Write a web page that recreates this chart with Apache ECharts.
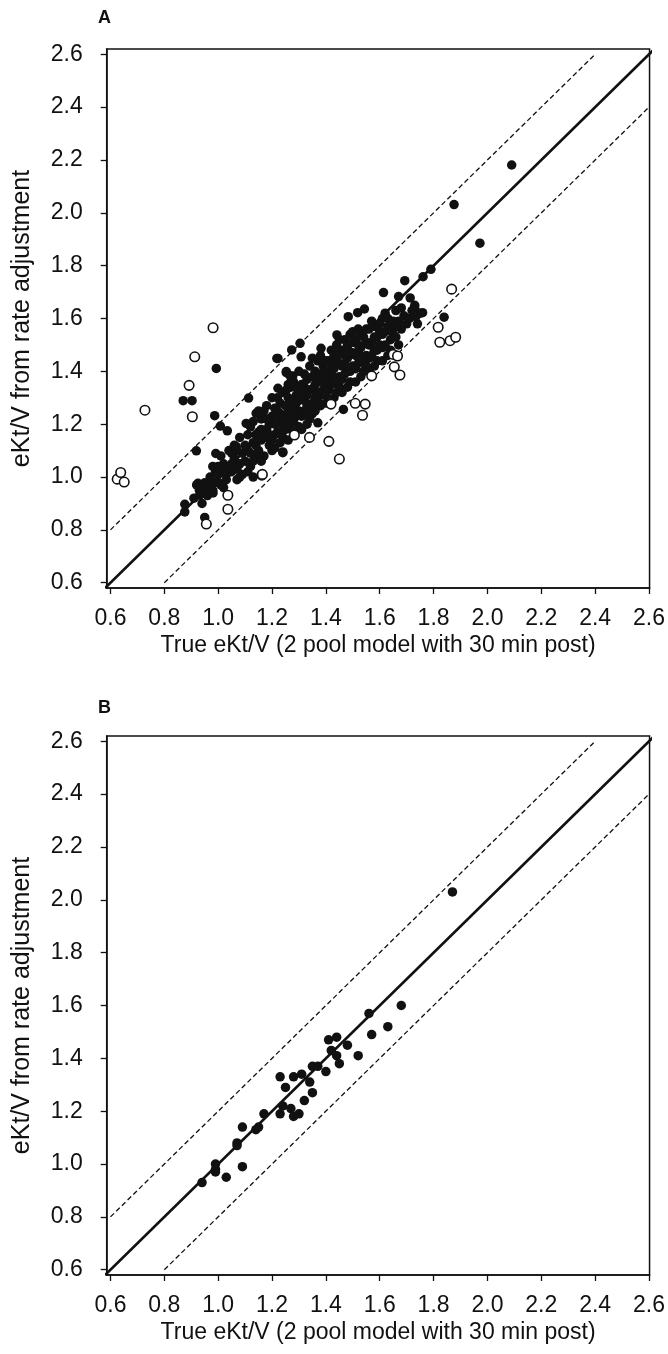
<!DOCTYPE html>
<html>
<head>
<meta charset="utf-8">
<script src="https://cdn.jsdelivr.net/npm/echarts@6/dist/echarts.min.js"></script>
<style>
html,body{margin:0;padding:0;background:#fff;}
#c{width:668px;height:1354px;}
</style>
</head>
<body>
<div id="c"></div>
<script>
// ---- tick labels ----
var tickValues = [0.6,0.8,1.0,1.2,1.4,1.6,1.8,2.0,2.2,2.4,2.6];
var xTitle = 'True eKt/V (2 pool model with 30 min post)';
var yTitle = 'eKt/V from rate adjustment';
var panelLabels = ['A','B'];

// ---- reference lines ----
var identityLine = [[0.58,0.58],[2.62,2.62]];
var upperLine = [[0.6,0.8],[2.4,2.6]];
var lowerLine = [[0.8,0.6],[2.6,2.4]];

// ---- Panel A: filled points (outliers and edges) ----
var aFilledEdge = [
[0.870,1.289],[0.903,1.289],[0.993,1.411],[0.987,1.232],[0.919,1.099],[1.113,1.299],[1.222,1.449],
[1.273,1.481],[1.304,1.506],[1.253,1.395],[1.277,1.382],[1.222,1.336],[1.253,1.329],[1.008,1.193],
[1.034,1.175],[1.104,1.203],[1.141,1.241],[1.067,1.115],[0.991,1.089],[1.240,1.092],[0.950,0.847],
[0.876,0.897],[0.876,0.868],[0.925,0.976],[0.950,0.978],[0.931,0.931],[0.981,0.940],[1.876,2.031],
[2.090,2.181],[1.972,1.885],[1.790,1.786],[1.761,1.758],[1.693,1.743],[1.614,1.698],[1.670,1.683],
[1.713,1.678],[1.839,1.605],[1.759,1.622],[1.730,1.639],[1.734,1.607],[1.483,1.607],[1.518,1.622],
[1.543,1.636],[1.441,1.538],[1.218,1.449],[1.308,1.455],[1.253,1.399],[1.267,1.383],[1.382,1.487],
[1.465,1.256],[1.370,1.205],[1.240,1.095]
];
// ---- Panel A: filled points (dense cluster) ----
var aFilledCluster = [
[0.91,0.92],[0.93,0.95],[0.94,0.90],[0.92,0.97],
[0.96,0.96],[0.97,1.00],[0.98,0.95],[0.99,1.02],[0.96,0.93],[0.98,1.04],[0.99,0.98],
[1.00,1.01],[1.01,0.97],[1.02,1.05],[1.03,0.99],[1.01,1.08],[1.04,1.03],[1.02,0.96],[1.04,1.10],[1.03,1.01],[1.00,1.04],
[1.05,1.02],[1.06,1.07],[1.07,0.99],[1.08,1.05],[1.06,1.12],[1.09,1.09],[1.07,1.03],[1.08,1.15],[1.09,1.01],[1.05,1.09],[1.10,1.06],
[1.11,1.10],[1.12,1.04],[1.13,1.13],[1.11,1.16],[1.14,1.08],[1.12,1.19],[1.13,1.06],[1.14,1.12],[1.15,1.17],[1.11,1.02],[1.13,1.21],[1.15,1.10],
[1.16,1.14],[1.17,1.08],[1.18,1.18],[1.16,1.22],[1.19,1.12],[1.17,1.25],[1.18,1.15],[1.19,1.20],[1.20,1.10],[1.16,1.06],[1.18,1.27],[1.20,1.23],[1.17,1.17],
[1.21,1.16],[1.22,1.21],[1.23,1.13],[1.21,1.26],[1.24,1.19],[1.22,1.30],[1.23,1.24],[1.24,1.15],[1.25,1.22],[1.21,1.11],[1.23,1.28],[1.25,1.18],[1.22,1.17],[1.24,1.32],
[1.26,1.20],[1.27,1.26],[1.28,1.16],[1.26,1.30],[1.29,1.23],[1.27,1.34],[1.28,1.21],[1.29,1.28],[1.30,1.19],[1.26,1.14],[1.28,1.36],[1.30,1.25],[1.27,1.22],[1.29,1.31],[1.30,1.33],
[1.31,1.23],[1.32,1.29],[1.33,1.20],[1.31,1.35],[1.34,1.26],[1.32,1.39],[1.33,1.31],[1.34,1.22],[1.35,1.28],[1.31,1.18],[1.33,1.37],[1.35,1.33],[1.32,1.25],[1.34,1.42],[1.35,1.24],
[1.36,1.30],[1.37,1.36],[1.38,1.27],[1.36,1.40],[1.39,1.33],[1.37,1.44],[1.38,1.31],[1.39,1.38],[1.40,1.28],[1.36,1.25],[1.38,1.46],[1.40,1.35],[1.37,1.29],[1.39,1.42],[1.40,1.40],
[1.41,1.33],[1.42,1.39],[1.43,1.30],[1.41,1.44],[1.44,1.36],[1.42,1.48],[1.43,1.41],[1.44,1.32],[1.45,1.38],[1.41,1.28],[1.43,1.46],[1.45,1.43],[1.42,1.35],[1.44,1.50],[1.45,1.34],
[1.46,1.37],[1.47,1.43],[1.48,1.34],[1.46,1.48],[1.49,1.40],[1.47,1.52],[1.48,1.45],[1.49,1.36],[1.50,1.42],[1.46,1.32],[1.48,1.50],[1.50,1.47],[1.47,1.39],[1.49,1.54],
[1.51,1.41],[1.52,1.47],[1.53,1.38],[1.51,1.52],[1.54,1.44],[1.52,1.56],[1.53,1.49],[1.54,1.40],[1.55,1.46],[1.51,1.36],[1.53,1.54],[1.55,1.51],[1.52,1.43],
[1.56,1.45],[1.57,1.51],[1.58,1.42],[1.56,1.56],[1.59,1.48],[1.57,1.59],[1.58,1.53],[1.59,1.44],[1.60,1.50],[1.56,1.40],[1.58,1.57],[1.60,1.55],
[1.61,1.49],[1.62,1.55],[1.63,1.46],[1.61,1.60],[1.64,1.52],[1.62,1.62],[1.63,1.57],[1.64,1.48],[1.65,1.54],[1.61,1.44],
[1.66,1.53],[1.67,1.59],[1.68,1.56],[1.66,1.63],[1.69,1.61],[1.67,1.50],[1.70,1.58],[1.68,1.64],
[1.71,1.60],[1.72,1.63],[1.74,1.58],[1.73,1.65],[1.75,1.62]
];
// ---- Panel A: filled points (densest core, overlapping) ----
var aFilledCore = [
[0.97,0.97],[1.00,0.98],[1.02,1.02],[1.05,1.05],[1.07,1.10],[1.10,1.12],[1.12,1.09],[1.14,1.16],
[1.16,1.18],[1.18,1.22],[1.19,1.16],[1.21,1.20],[1.22,1.25],[1.24,1.23],[1.25,1.27],[1.26,1.24],
[1.27,1.29],[1.28,1.25],[1.29,1.34],[1.30,1.29],[1.31,1.31],[1.32,1.34],[1.33,1.27],[1.34,1.33],
[1.35,1.38],[1.36,1.35],[1.37,1.32],[1.38,1.39],[1.39,1.36],[1.40,1.44],[1.41,1.38],[1.42,1.43],
[1.43,1.36],[1.44,1.44],[1.45,1.47],[1.46,1.42],[1.47,1.46],[1.48,1.40],[1.49,1.47],[1.50,1.51],
[1.51,1.46],[1.52,1.50],[1.53,1.44],[1.54,1.53],[1.55,1.56],[1.56,1.50],[1.57,1.46],[1.58,1.48],
[1.59,1.53],[1.60,1.58],[1.61,1.54],[1.62,1.50],[1.63,1.60],[1.64,1.57],[1.65,1.59],[1.66,1.57],
[1.35,1.45],[1.30,1.40],[1.26,1.35],[1.20,1.30],[1.15,1.25],[1.45,1.52],[1.50,1.55],[1.55,1.42],
[1.40,1.31],[1.33,1.24],[1.27,1.18],[1.20,1.14],[1.13,1.00],[1.08,1.00]
];
// ---- Panel A: open circles ----
var aOpen = [
[0.625,0.992],[0.638,1.017],[0.651,0.981],[0.728,1.253],[0.981,1.565],[0.913,1.455],[0.892,1.347],
[0.904,1.228],[1.283,1.159],[1.162,1.007],[1.036,0.931],[1.036,0.878],[0.956,0.822],[1.867,1.711],
[1.817,1.567],[1.823,1.510],[1.861,1.516],[1.882,1.529],[1.650,1.464],[1.666,1.458],[1.654,1.417],
[1.675,1.386],[1.570,1.383],[1.509,1.279],[1.546,1.276],[1.536,1.234],[1.419,1.276],[1.411,1.135],
[1.339,1.150],[1.450,1.068],[1.164,1.010]
];
// ---- Panel B: filled points ----
var bFilled = [
[0.94,0.93],[0.99,1.00],[0.99,0.98],[0.99,0.97],[1.03,0.95],[1.09,0.99],[1.07,1.08],[1.07,1.07],
[1.09,1.14],[1.15,1.14],[1.14,1.13],[1.17,1.19],[1.23,1.19],[1.24,1.22],[1.27,1.21],[1.28,1.18],
[1.30,1.19],[1.25,1.29],[1.23,1.33],[1.28,1.33],[1.31,1.34],[1.32,1.24],[1.34,1.31],[1.35,1.27],
[1.35,1.37],[1.37,1.37],[1.40,1.35],[1.42,1.43],[1.44,1.41],[1.45,1.38],[1.52,1.41],[1.41,1.47],
[1.44,1.48],[1.48,1.45],[1.56,1.57],[1.57,1.49],[1.63,1.52],[1.68,1.60],[1.87,2.03]
];

var FONT = '"Liberation Sans", Arial, sans-serif';
var chart = echarts.init(document.getElementById('c'), null, {renderer:'canvas'});

function xAxisDef(gi){
  return {
    type:'value', gridIndex:gi, min:0.586, max:2.602,
    name:xTitle, nameLocation:'middle', nameGap:46,
    nameTextStyle:{fontFamily:FONT, fontSize:23, color:'#111'},
    axisLine:{show:true, onZero:false, lineStyle:{color:'#111', width:1.5}},
    axisTick:{show:true, inside:false, length:6, lineStyle:{color:'#111', width:1.3}, customValues:tickValues},
    axisLabel:{fontFamily:FONT, fontSize:23, color:'#111', margin:19, customValues:tickValues,
      formatter:function(v){return v.toFixed(1);}},
    splitLine:{show:false}
  };
}
function yAxisDef(gi){
  return {
    type:'value', gridIndex:gi, min:0.58, max:2.62,
    name:yTitle, nameLocation:'middle', nameGap:72, nameRotate:90,
    nameTextStyle:{fontFamily:FONT, fontSize:25, color:'#111'},
    axisLine:{show:true, onZero:false, lineStyle:{color:'#111', width:1.5}},
    axisTick:{show:true, inside:false, length:6, lineStyle:{color:'#111', width:1.3}, customValues:tickValues},
    axisLabel:{fontFamily:FONT, fontSize:23, color:'#111', margin:24, customValues:tickValues,
      formatter:function(v){return v.toFixed(1);}},
    splitLine:{show:false}
  };
}
function lineSeries(gi, data, dashed){
  return {
    type:'line', xAxisIndex:gi, yAxisIndex:gi, data:data, showSymbol:false, silent:true,
    animation:false, z:1,
    lineStyle: dashed ? {color:'#111', width:1.3, type:[5,3]} : {color:'#111', width:2.6}
  };
}
function scatterSeries(gi, data, open){
  return {
    type:'scatter', xAxisIndex:gi, yAxisIndex:gi, data:data, symbol:'circle',
    symbolSize: 9.5, z: open ? 4 : 3, animation:false,
    itemStyle: open ? {color:'#fff', borderColor:'#111', borderWidth:1.6, opacity:1}
                    : {color:'#111', opacity:1}
  };
}

var option = {
  animation:false,
  backgroundColor:'#fff',
  grid:[
    {left:106.7, top:49, width:544.3, height:539, show:true, borderColor:'#111', borderWidth:1.5, containLabel:false},
    {left:106.7, top:736, width:544.3, height:539, show:true, borderColor:'#111', borderWidth:1.5, containLabel:false}
  ],
  xAxis:[xAxisDef(0), xAxisDef(1)],
  yAxis:[yAxisDef(0), yAxisDef(1)],
  graphic:[
    {type:'text', left:98, top:9, style:{text:panelLabels[0], font:'bold 18px '+FONT, fill:'#111'}},
    {type:'text', left:98, top:699, style:{text:panelLabels[1], font:'bold 18px '+FONT, fill:'#111'}}
  ],
  series:[
    lineSeries(0, identityLine, false),
    lineSeries(0, upperLine, true),
    lineSeries(0, lowerLine, true),
    lineSeries(1, identityLine, false),
    lineSeries(1, upperLine, true),
    lineSeries(1, lowerLine, true),
    scatterSeries(0, aFilledCluster, false),
    scatterSeries(0, aFilledCore, false),
    scatterSeries(0, aFilledEdge, false),
    scatterSeries(0, aOpen, true),
    scatterSeries(1, bFilled, false)
  ]
};
chart.setOption(option);
</script>
</body>
</html>
